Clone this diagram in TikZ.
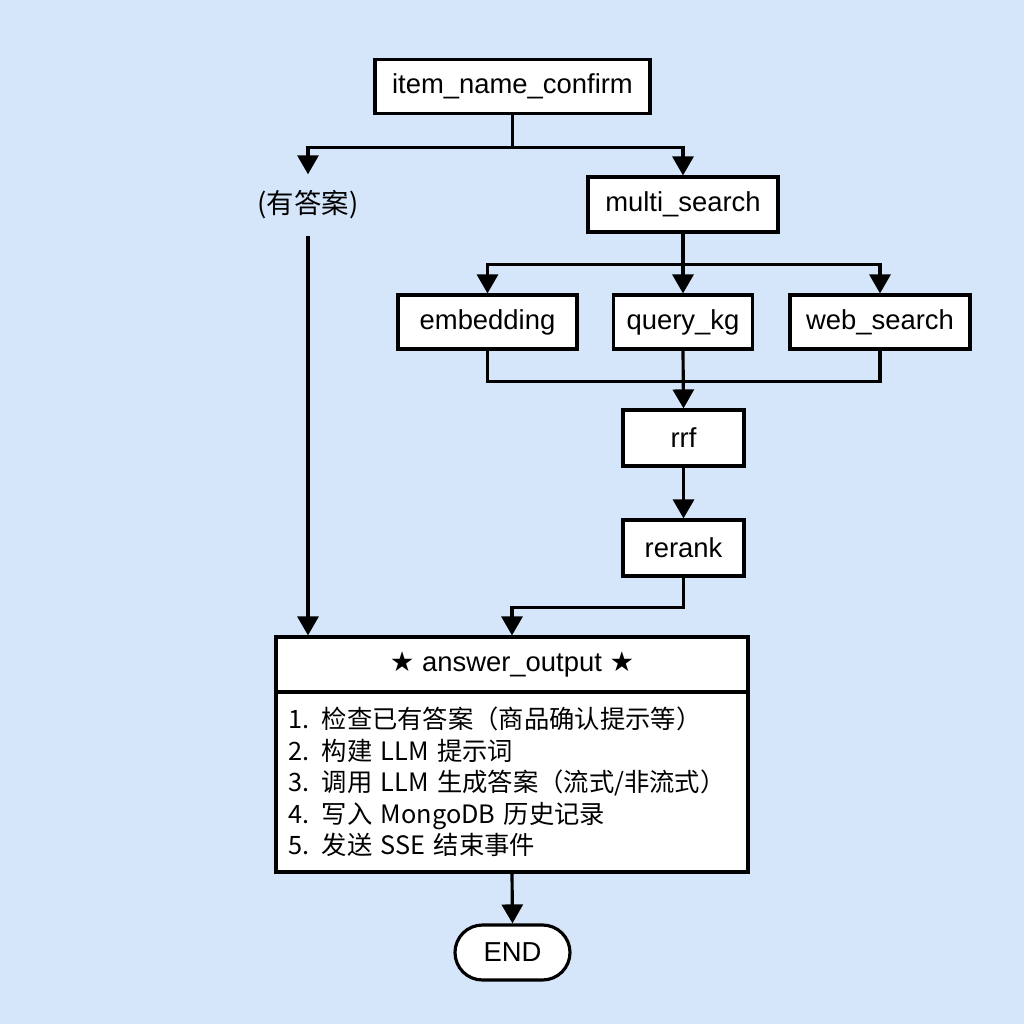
\documentclass[tikz,border=0pt]{standalone}
\usepackage{fontspec}
\setmainfont{Liberation Sans}
\newfontfamily\cjk{Noto Sans CJK SC}
\newfontfamily\sym{DejaVu Sans}
\usetikzlibrary{arrows.meta,shapes.misc}
\definecolor{bgblue}{HTML}{D6E6FA}
\begin{document}
\begin{tikzpicture}[
            box/.style={draw, fill=white, line width=0.9pt, minimum height=0.54cm, inner sep=0pt, font=\fontsize{7.8}{9.4}\selectfont},
            arr/.style={-{Triangle[width=2.1mm,length=1.9mm]}},
            line/.style={line width=0.9pt}
        ]
            \fill[bgblue] (0, 0) rectangle (10.24, -10.24);
            \useasboundingbox (0, 0) rectangle (10.24, -10.24);
            
            \node (confirm) at (5.125, -0.865) [box, minimum width=2.75cm] {item\_name\_confirm};
            \node (hasans) at (3.08, -2.05) [minimum height=0.6cm, inner sep=0pt, font=\cjk\fontsize{7.8}{9.4}\selectfont] {(有答案)};
            \node (multi) at (6.83, -2.045) [box, minimum width=1.9cm, minimum height=0.55cm] {multi\_search};
            
            \node (emb) at (4.875, -3.22) [box, minimum width=1.79cm] {embedding};
            \node (kg) at (6.83, -3.22) [box, minimum width=1.39cm] {query\_kg};
            \node (web) at (8.8, -3.22) [box, minimum width=1.8cm] {web\_search};
            
            \node (rrf) at (6.835, -4.38) [box, minimum width=1.21cm, minimum height=0.56cm] {rrf};
            \node (rerank) at (6.835, -5.48) [box, minimum width=1.21cm, minimum height=0.56cm] {rerank};
            
            \node (head) at (5.12, -6.645) [box, minimum width=4.72cm, minimum height=0.55cm] {{\sym ★} answer\_output {\sym ★}};
            \node (body) at (5.12, -7.82) [box, minimum width=4.72cm, minimum height=1.8cm, text width=4.48cm, inner xsep=0.12cm, align=left, font=\cjk\fontsize{7.2}{8.96}\selectfont] {1. 检查已有答案（商品确认提示等）\\2. 构建 LLM 提示词\\3. 调用 LLM 生成答案（流式/非流式）\\4. 写入 MongoDB 历史记录\\5. 发送 SSE 结束事件};
            
            \node (end) at (5.125, -9.525) [box, rounded rectangle, minimum width=1.15cm, minimum height=0.55cm] {END};
            
            \draw[line] (confirm.south) -- ++(0, -0.32) coordinate (fork1);
            \draw[line, arr] (fork1) -| (hasans.north);
            \draw[line, arr] (fork1) -| (multi.north);
            
            \draw[line] (multi.south) -- ++(0, -0.31) coordinate (fork2);
            \draw[line, arr] (fork2) -| (emb.north);
            \draw[line, arr] (multi.south) -- (kg.north);
            \draw[line, arr] (fork2) -| (web.north);
            
            \draw[line] (emb.south) -- ++(0, -0.31) -| (web.south);
            \draw[line, arr] (kg.south) -- (rrf.north);
            \draw[line, arr] (rrf.south) -- (rerank.north);
            
            \draw[line, arr] (rerank.south) -- ++(0, -0.3) -| (head.north);
            \draw[line, arr] (hasans.south) -- (hasans.south |- head.north);
            \draw[line, arr] (body.south) -- (end.north);
            
        \end{tikzpicture}
\end{document}
